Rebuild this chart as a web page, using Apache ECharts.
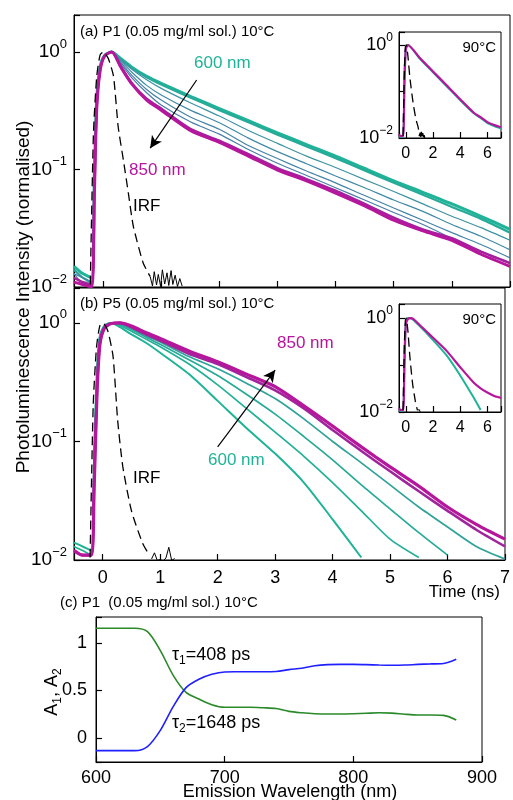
<!DOCTYPE html>
<html><head><meta charset="utf-8">
<script src="https://cdn.jsdelivr.net/npm/echarts/dist/echarts.min.js"></script>
<style>html,body{margin:0;padding:0;background:#fff}#c{width:513px;height:800px}</style>
</head><body><div id="c"></div>
<script>
// ---------- DATA ----------
// Panel (a) P1, 10 C : time axis (ns) and normalised PL decays
const tA = [-0.5, -0.35, -0.2, -0.15, -0.11, -0.05, 0.03, 0.15, 0.3, 0.5, 0.75, 1, 1.5, 2, 2.5, 3, 3.5, 4, 4.5, 5, 5.5, 6, 6.5, 7];
const a600 = [0.015, 0.013, 0.012, 0.09, 0.39, 0.75, 0.94, 1.0, 0.88, 0.74, 0.62, 0.54, 0.42, 0.33, 0.26, 0.205, 0.163, 0.13, 0.102, 0.08, 0.064, 0.051, 0.04, 0.031];
const a620 = [0.014, 0.012, 0.011, 0.085, 0.38, 0.74, 0.94, 1.0, 0.875, 0.73, 0.61, 0.53, 0.41, 0.32, 0.252, 0.198, 0.157, 0.125, 0.098, 0.077, 0.061, 0.048, 0.038, 0.029];
const a650 = [0.014, 0.012, 0.011, 0.08, 0.37, 0.73, 0.93, 1.0, 0.86, 0.71, 0.58, 0.49, 0.37, 0.285, 0.215, 0.167, 0.13, 0.104, 0.082, 0.065, 0.051, 0.04, 0.032, 0.025];
const a660 = [0.013, 0.012, 0.011, 0.075, 0.36, 0.72, 0.93, 1.0, 0.84, 0.67, 0.52, 0.43, 0.32, 0.25, 0.185, 0.142, 0.112, 0.088, 0.07, 0.055, 0.044, 0.034, 0.027, 0.0207];
const a670 = [0.013, 0.011, 0.011, 0.07, 0.35, 0.71, 0.92, 1.0, 0.82, 0.63, 0.48, 0.39, 0.28, 0.22, 0.16, 0.124, 0.097, 0.077, 0.06, 0.047, 0.037, 0.029, 0.023, 0.0177];
const a680 = [0.012, 0.011, 0.01, 0.065, 0.34, 0.7, 0.92, 1.0, 0.8, 0.6, 0.45, 0.354, 0.255, 0.2, 0.148, 0.113, 0.089, 0.07, 0.055, 0.043, 0.034, 0.026, 0.02, 0.0159];
const a700 = [0.012, 0.011, 0.0105, 0.06, 0.33, 0.7, 0.93, 1.0, 0.76, 0.54, 0.4, 0.33, 0.222, 0.176, 0.135, 0.103, 0.083, 0.066, 0.051, 0.039, 0.031, 0.026, 0.02, 0.016];
const a850 = [0.011, 0.0105, 0.01, 0.06, 0.32, 0.7, 0.93, 1.0, 0.75, 0.53, 0.39, 0.32, 0.215, 0.17, 0.13, 0.099, 0.08, 0.063, 0.049, 0.037, 0.03, 0.025, 0.019, 0.015];
const tIrfA = [-0.22, -0.166, -0.109, -0.052, 0.005, 0.09, 0.18, 0.26, 0.35, 0.435, 0.52, 0.69, 0.81];
const irfA = [0.0105, 0.2, 0.62, 0.94, 1.0, 0.88, 0.62, 0.231, 0.12, 0.063, 0.033, 0.016, 0.0123];
const tIrfTailA = [0.81, 0.85, 0.88, 0.92, 0.95, 0.99, 1.02, 1.06, 1.1, 1.13, 1.17, 1.2, 1.24, 1.28, 1.32, 1.36];
const irfTailA = [0.0123, 0.0102, 0.0135, 0.0104, 0.0128, 0.0101, 0.014, 0.0106, 0.0132, 0.0103, 0.0138, 0.0105, 0.0126, 0.0101, 0.0118, 0.0102];

// Panel (b) P5, 10 C
const tB = [-0.5, -0.35, -0.2, -0.15, -0.1, -0.05, 0.03, 0.15, 0.3, 0.5, 0.75, 1, 1.5, 2, 2.5, 3, 3.5, 4, 4.5, 5, 5.5, 6, 6.5, 7];
const b600 = [0.014, 0.013, 0.012, 0.08, 0.4, 0.78, 0.95, 1.0, 0.92, 0.8, 0.68, 0.56, 0.37, 0.22, 0.13, 0.079, 0.045, 0.022, 0.0105];
const b650 = [0.013, 0.012, 0.011, 0.075, 0.38, 0.77, 0.95, 1.0, 0.95, 0.85, 0.73, 0.63, 0.45, 0.3, 0.19, 0.12, 0.075, 0.045, 0.026, 0.015, 0.0105];
const b675 = [0.012, 0.011, 0.011, 0.07, 0.35, 0.75, 0.94, 1.0, 0.97, 0.88, 0.76, 0.66, 0.49, 0.36, 0.25, 0.17, 0.11, 0.07, 0.043, 0.027, 0.017, 0.011];
const b700 = [0.012, 0.011, 0.011, 0.06, 0.32, 0.72, 0.93, 1.0, 0.99, 0.9, 0.78, 0.69, 0.52, 0.41, 0.31, 0.23, 0.155, 0.1, 0.066, 0.043, 0.028, 0.019, 0.013, 0.0102];
const b750 = [0.012, 0.011, 0.011, 0.045, 0.27, 0.68, 0.91, 0.99, 1.0, 0.92, 0.8, 0.71, 0.55, 0.45, 0.35, 0.27, 0.19, 0.125, 0.083, 0.056, 0.038, 0.026, 0.018, 0.013];
const b850 = [0.012, 0.011, 0.011, 0.04, 0.25, 0.65, 0.9, 0.99, 1.0, 0.94, 0.83, 0.74, 0.58, 0.47, 0.37, 0.29, 0.2, 0.135, 0.09, 0.061, 0.042, 0.028, 0.02, 0.015];
const tIrfB = [-0.22, -0.166, -0.109, -0.052, 0.005, 0.09, 0.18, 0.26, 0.35, 0.5, 0.69, 0.81];
const irfB = [0.0105, 0.2, 0.62, 0.94, 1.0, 0.85, 0.52, 0.15, 0.061, 0.026, 0.014, 0.011];
const tIrfTailB = [0.85, 0.9, 0.95, 1.0, 1.05, 1.1, 1.15, 1.2, 1.25];
const irfTailB = [0.0102, 0.0115, 0.0099, 0.0101, 0.0098, 0.0104, 0.0128, 0.0099, 0.0103];

// Insets (90 C)
const tInsA = [-0.5, -0.4, -0.2, -0.1, 0.0, 0.15, 1, 2, 3, 4, 5, 5.5, 6, 6.5, 7];
const insA850 = [0.012, 0.011, 0.011, 0.15, 0.8, 1.0, 0.54, 0.27, 0.136, 0.068, 0.035, 0.028, 0.022, 0.019, 0.017];
const insA600 = [0.011, 0.0105, 0.0105, 0.2, 0.85, 1.0, 0.52, 0.26, 0.13, 0.065, 0.034, 0.027, 0.021, 0.018, 0.016];
const tInsIrfA = [-0.2, -0.1, -0.03, 0.03, 0.15, 0.3, 0.54, 0.75, 0.91, 1.0, 1.05, 1.1, 1.15, 1.2, 1.25, 1.3, 1.35, 1.4];
const insIrfA = [0.011, 0.3, 0.9, 1.0, 0.6, 0.2, 0.056, 0.025, 0.017, 0.011, 0.013, 0.0105, 0.0135, 0.011, 0.0128, 0.0104, 0.0115, 0.0101];
const tInsB = [-0.5, -0.4, -0.2, -0.1, 0.0, 0.15, 0.4, 1, 2, 3, 4, 5, 5.5, 6, 6.5, 7];
const insB850 = [0.012, 0.011, 0.011, 0.1, 0.7, 0.95, 1.0, 0.72, 0.38, 0.2, 0.09, 0.042, 0.032, 0.026, 0.022, 0.02];
const insB600 = [0.011, 0.0105, 0.0105, 0.15, 0.8, 1.0, 0.98, 0.68, 0.34, 0.16, 0.06, 0.02, 0.011];
const tInsIrfB = [-0.2, -0.1, -0.03, 0.03, 0.15, 0.3, 0.5, 0.7, 0.85, 0.95, 1.0, 1.05];
const insIrfB = [0.011, 0.3, 0.9, 1.0, 0.55, 0.15, 0.04, 0.017, 0.011, 0.0102, 0.0112, 0.0101];

// Panel (c) amplitudes vs emission wavelength
const wl = [600, 610, 620, 630, 640, 650, 660, 670, 680, 690, 700, 710, 720, 730, 740, 750, 760, 770, 780, 790, 800, 810, 820, 830, 840, 850, 860, 870, 880];
const ampTau2 = [1.155, 1.155, 1.155, 1.155, 1.12, 0.92, 0.66, 0.48, 0.41, 0.35, 0.323, 0.323, 0.323, 0.318, 0.31, 0.28, 0.265, 0.255, 0.252, 0.252, 0.255, 0.26, 0.265, 0.262, 0.25, 0.242, 0.242, 0.238, 0.19];
const ampTau1 = [-0.133, -0.133, -0.133, -0.133, -0.09, 0.08, 0.33, 0.53, 0.618, 0.67, 0.695, 0.697, 0.698, 0.698, 0.70, 0.72, 0.735, 0.76, 0.772, 0.775, 0.775, 0.772, 0.768, 0.766, 0.768, 0.775, 0.78, 0.785, 0.83];

// ---------- CHART ----------
const F = 'Liberation Sans, Arial, Helvetica, sans-serif';
const TEAL = '#1fb398', MAG = '#b5169b';
const pts = (ts, vs) => vs.map((v, i) => [ts[i], v]);

const grids = [
  {left: 74, top: 15, width: 438, height: 272},
  {left: 74, top: 288, width: 438, height: 272},
  {left: 399, top: 32, width: 102, height: 106},
  {left: 399, top: 304, width: 102, height: 108},
  {left: 96, top: 617, width: 386, height: 145}
].map(g => Object.assign({show: true, borderColor: '#000', borderWidth: 1}, g));

const mkTick = () => ({show: true, inside: true, length: 6, lineStyle: {color: '#000', width: 1.2}});
const mkLine = () => ({show: true, onZero: false, lineStyle: {color: '#000', width: 1}});
const xAxes = [], yAxes = [];
function addX(gi, base, label) {
  xAxes.push(Object.assign({gridIndex: gi, axisLine: mkLine(), axisTick: mkTick(), splitLine: {show: false},
    axisLabel: label || {show: true, formatter: () => ''}}, base));
}
function addY(gi, base, label) {
  yAxes.push(Object.assign({gridIndex: gi, axisLine: mkLine(), axisTick: mkTick(), splitLine: {show: false},
    axisLabel: label || {show: true, formatter: () => ''}}, base));
}
function logFmt(onlyEven) {
  return function (v) {
    const l = Math.log10(v), e = Math.round(l);
    if (Math.abs(l - e) > 1e-6) return '';
    if (onlyEven && e % 2 !== 0) return '';
    return '{b|10}{s|' + (e < 0 ? '\u2212' + (-e) : e) + '}';
  };
}
const logRich = (b, s, p) => ({b: {fontSize: b, fontFamily: F, color: '#000'}, s: {fontSize: s, fontFamily: F, color: '#000', padding: [0, 0, p, 0]}});

// grid 0: panel a
addX(0, {type: 'value', min: -0.5, max: 7, splitNumber: 7});
addY(0, {type: 'log', logBase: 10, min: 0.01, max: 2.065}, {margin: 7, formatter: logFmt(false), rich: logRich(19, 13, 16)});
// grid 1: panel b
addX(1, {type: 'value', min: -0.5, max: 7, splitNumber: 7},
  {margin: 9, fontSize: 18, fontFamily: F, color: '#000', formatter: v => (Math.abs(v - Math.round(v)) < 1e-9 ? String(Math.round(v)) : '')});
addY(1, {type: 'log', logBase: 10, min: 0.01, max: 1.97}, {margin: 7, formatter: logFmt(false), rich: logRich(19, 13, 16)});
// grid 2: inset a
const insXLabel = () => ({margin: 8, fontSize: 16, fontFamily: F, color: '#000', formatter: v => (v >= 0 && v <= 6 && Math.abs(v % 2) < 1e-9 ? String(v) : '')});
addX(2, {type: 'value', min: -0.5, max: 7, splitNumber: 4}, insXLabel());
addY(2, {type: 'log', logBase: 10, min: 0.01, max: 1.905}, {margin: 6, formatter: logFmt(true), rich: logRich(18, 12, 15)});
// grid 3: inset b
addX(3, {type: 'value', min: -0.5, max: 7, splitNumber: 4}, insXLabel());
addY(3, {type: 'log', logBase: 10, min: 0.01, max: 1.99}, {margin: 6, formatter: logFmt(true), rich: logRich(18, 12, 15)});
// grid 4: panel c
addX(4, {type: 'value', min: 600, max: 900, interval: 100}, {margin: 7, fontSize: 18, fontFamily: F, color: '#000'});
addY(4, {type: 'value', min: -0.253, max: 1.274, splitNumber: 3},
  {margin: 9, fontSize: 18, fontFamily: F, color: '#000', formatter: v => ([0, 0.5, 1].some(k => Math.abs(v - k) < 1e-6) ? String(Math.round(v * 10) / 10) : '')});

const series = [];
function line(gi, data, color, width, extra) {
  series.push(Object.assign({type: 'line', xAxisIndex: gi, yAxisIndex: gi, data, showSymbol: false, symbol: 'none', smooth: 0.25, lineStyle: {color, width}, itemStyle: {color}, silent: true, z: 3}, extra || {}));
}
const arrowML = (from, to) => ({markLine: {silent: true, symbol: ['none', 'arrow'], symbolSize: [9, 12], lineStyle: {color: '#000', width: 1.2, type: 'solid'}, label: {show: false}, data: [[{coord: from}, {coord: to}]]}});
const dashed = c => ({lineStyle: {color: c || '#000', width: 1.3, type: [9, 5]}, smooth: 0.2});

// panel a
line(0, pts(tA, a600), TEAL, 3);
line(0, pts(tA, a620), '#26aa99', 2.2);
line(0, pts(tA, a650), '#3d93a3', 1.2);
line(0, pts(tA, a660), '#418aa5', 1.2);
line(0, pts(tA, a670), '#4583a7', 1.2);
line(0, pts(tA, a680), '#4a7ca8', 1.2);
line(0, pts(tA, a700), '#a4209d', 2.4);
line(0, pts(tA, a850), MAG, 3, arrowML([1.61, 0.578], [0.81, 0.152]));
line(0, pts(tIrfA, irfA), '#000', 1.3, dashed());
line(0, pts(tIrfTailA, irfTailA), '#000', 1, {smooth: false});
// panel b
line(1, pts(tB, b600), TEAL, 2);
line(1, pts(tB, b650), '#22b098', 1.7);
line(1, pts(tB, b675), '#27aa98', 1.7);
line(1, pts(tB, b700), '#2fa39a', 1.7);
line(1, pts(tB, b750), '#a0259d', 2.6);
line(1, pts(tB, b850), MAG, 3.2, arrowML([2.0, 0.09], [3.0, 0.40]));
line(1, pts(tIrfB, irfB), '#000', 1.3, dashed());
line(1, pts(tIrfTailB, irfTailB), '#000', 1, {smooth: false});
// inset a
line(2, pts(tInsA, insA600), TEAL, 2);
line(2, pts(tInsA, insA850), MAG, 2.2);
line(2, pts(tInsIrfA.slice(0, 10), insIrfA.slice(0, 10)), '#000', 1.2, dashed());
line(2, pts(tInsIrfA.slice(9), insIrfA.slice(9)), '#000', 1.2, {smooth: false});
// inset b
line(3, pts(tInsB, insB600), TEAL, 2);
line(3, pts(tInsB, insB850), MAG, 2.2);
line(3, pts(tInsIrfB.slice(0, 9), insIrfB.slice(0, 9)), '#000', 1.2, dashed());
line(3, pts(tInsIrfB.slice(8), insIrfB.slice(8)), '#000', 1, {smooth: false});
// panel c
line(4, pts(wl, ampTau2), '#2a8a2a', 1.6, {smooth: 0.3});
line(4, pts(wl, ampTau1), '#1f1fff', 1.6, {smooth: 0.3});

function txt(x, y, text, size, color, align, extra) {
  return Object.assign({type: 'text', x, y, z: 100, silent: true,
    style: {text, fill: color || '#000', fontSize: size, fontFamily: F, align: align || 'left', verticalAlign: 'middle'}}, extra || {});
}
const subRich = {t: {fontSize: 18, fontFamily: F, fill: '#000'}, s: {fontSize: 12, fontFamily: F, fill: '#000', padding: [12, 0, 0, 0]}};
const graphic = [
  txt(80, 32, '(a) P1 (0.05 mg/ml sol.) 10\u00B0C', 15),
  txt(194, 63, '600 nm', 17, TEAL),
  txt(129, 170, '850 nm', 17, MAG),
  txt(133, 206, 'IRF', 17),
  txt(496, 48, '90\u00B0C', 15, '#000', 'right'),
  txt(80, 304, '(b) P5 (0.05 mg/ml sol.) 10\u00B0C', 15),
  txt(277, 343, '850 nm', 17, MAG),
  txt(208, 460, '600 nm', 17, TEAL),
  txt(133, 478, 'IRF', 17),
  txt(496, 320, '90\u00B0C', 15, '#000', 'right'),
  txt(500, 592, 'Time (ns)', 17, '#000', 'right'),
  txt(24, 297, 'Photoluminescence Intensity (normalised)', 19, '#000', 'center', {rotation: Math.PI / 2}),
  txt(60, 603, '(c) P1  (0.05 mg/ml sol.) 10\u00B0C', 15),
  {type: 'text', x: 172, y: 655, z: 100, silent: true, style: {text: '{t|\u03C4}{s|1}{t|=408 ps}', rich: subRich, fill: '#000', verticalAlign: 'middle'}},
  {type: 'text', x: 172, y: 723, z: 100, silent: true, style: {text: '{t|\u03C4}{s|2}{t|=1648 ps}', rich: subRich, fill: '#000', verticalAlign: 'middle'}},
  txt(290, 792, 'Emission Wavelength (nm)', 18, '#000', 'center'),
  {type: 'text', x: 52, y: 692, z: 100, rotation: Math.PI / 2, silent: true,
   style: {text: '{t|A}{s|1}{t|, A}{s|2}', rich: {t: {fontSize: 18, fontFamily: F, fill: '#000'}, s: {fontSize: 12, fontFamily: F, fill: '#000', padding: [12, 0, 0, 0]}}, fill: '#000', align: 'center', verticalAlign: 'middle'}}
];

const chart = echarts.init(document.getElementById('c'), null, {renderer: 'canvas'});
chart.setOption({animation: false, backgroundColor: '#fff', grid: grids, xAxis: xAxes, yAxis: yAxes, series, graphic});
</script></body></html>
